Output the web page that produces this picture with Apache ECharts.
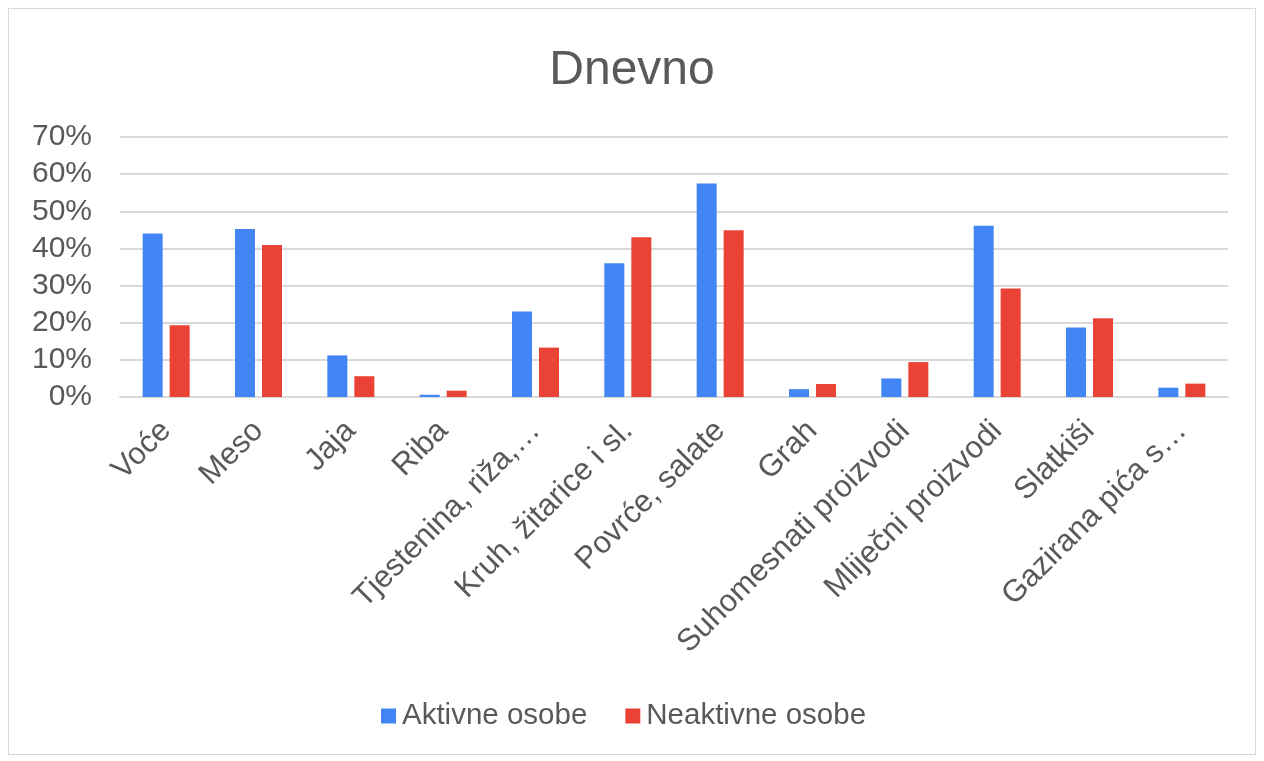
<!DOCTYPE html>
<html>
<head>
<meta charset="utf-8">
<script src="https://cdn.jsdelivr.net/npm/echarts@6/dist/echarts.min.js"></script>
<style>
html,body{margin:0;padding:0;background:#fff;}
#frame{position:absolute;left:8px;top:8px;width:1248px;height:747px;border:1px solid #d9d9d9;box-sizing:border-box;}
#c{position:absolute;left:0;top:0;width:1264px;height:761px;}
</style>
</head>
<body>
<div id="frame"></div>
<div id="c"></div>
<script>
const categories = ['Voće','Meso','Jaja','Riba','Tjestenina, riža,…','Kruh, žitarice i sl.','Povrće, salate','Grah','Suhomesnati proizvodi','Mliječni proizvodi','Slatkiši','Gazirana pića s…'];
const aktivne = [44.0,45.2,11.2,0.6,23.0,36.0,57.5,2.1,5.0,46.1,18.7,2.5];
const neaktivne = [19.3,40.9,5.6,1.7,13.3,43.0,44.9,3.5,9.4,29.2,21.2,3.6];
const seriesNames = ['Aktivne osobe','Neaktivne osobe'];

const chart = echarts.init(document.getElementById('c'));
chart.setOption({
  animation:false,
  title:{text:'Dnevno',left:'center',top:42,textStyle:{fontFamily:'Liberation Sans',fontSize:48,fontWeight:'normal',color:'#595959'}},
  legend:{bottom:25,left:376,itemWidth:15,itemHeight:15,itemGap:38,icon:'rect',
    textStyle:{fontFamily:'Liberation Sans',fontSize:29.5,color:'#595959',padding:[0,0,0,1]},data:seriesNames},
  grid:{left:120,right:36,top:137,bottom:364},
  xAxis:{type:'category',data:categories,
    axisLine:{lineStyle:{color:'#d9d9d9',width:2}},axisTick:{show:false},
    axisLabel:{rotate:45,interval:0,fontFamily:'Liberation Sans',fontSize:31,color:'#595959',margin:29}},
  yAxis:{type:'value',min:0,max:70,interval:10,
    axisLabel:{formatter:'{value}%',fontFamily:'Liberation Sans',fontSize:30,color:'#595959',margin:28},
    axisLine:{show:false},axisTick:{show:false},
    splitLine:{lineStyle:{color:'#d9d9d9',width:2}}},
  series:[
    {name:seriesNames[0],type:'bar',data:aktivne,barWidth:20,barGap:'35%',itemStyle:{color:'#4285F4'}},
    {name:seriesNames[1],type:'bar',data:neaktivne,barWidth:20,itemStyle:{color:'#EA4335'}}
  ]
});
</script>
</body>
</html>
